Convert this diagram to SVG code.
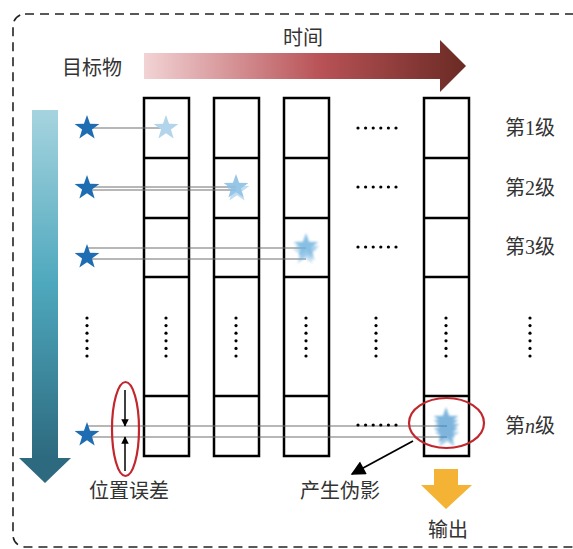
<svg xmlns="http://www.w3.org/2000/svg" width="573" height="549" viewBox="0 0 573 549">
<style>
.t{font-family:"Liberation Serif","Noto Sans CJK SC",serif;font-size:20px;fill:#333;}
.cell{fill:none;stroke:#000;stroke-width:2.5;}
.ln{stroke:#707070;stroke-width:1.2;fill:none;}
.dot{fill:#000;}
.ell{fill:none;stroke:#c1272d;stroke-width:2.2;}
</style>
<defs>
<path id="star" d="M0,-13 L3.06,-4.21 L12.36,-4.02 L4.95,1.61 L7.64,10.52 L0,5.2 L-7.64,10.52 L-4.95,1.61 L-12.36,-4.02 L-3.06,-4.21 Z"/>
<linearGradient id="gRed" x1="0" y1="0" x2="1" y2="0">
<stop offset="0" stop-color="#f2d3d5"/>
<stop offset="0.55" stop-color="#b85256"/>
<stop offset="1" stop-color="#6a2a24"/>
</linearGradient>
<linearGradient id="gBlue" x1="0" y1="0" x2="0" y2="1">
<stop offset="0" stop-color="#a6d4df"/>
<stop offset="0.5" stop-color="#4ea8bd"/>
<stop offset="1" stop-color="#2d6a7f"/>
</linearGradient>
<filter id="b1" x="-50%" y="-50%" width="200%" height="200%"><feGaussianBlur stdDeviation="0.6"/></filter>
<filter id="b2" x="-50%" y="-50%" width="200%" height="200%"><feGaussianBlur stdDeviation="1"/></filter>
<marker id="ahBig" viewBox="0 0 10 10" refX="9" refY="5" markerWidth="9" markerHeight="8" orient="auto" markerUnits="strokeWidth">
<path d="M0,0 L10,5 L0,10 Z" fill="#000"/>
</marker>
<marker id="ahSmall" viewBox="0 0 10 10" refX="9" refY="5" markerWidth="5" markerHeight="5" orient="auto" markerUnits="strokeWidth">
<path d="M0,0 L10,5 L0,10 Z" fill="#000"/>
</marker>
</defs>

<g id="border">
<rect x="13" y="14" width="572" height="533" rx="12" ry="12" fill="none" stroke="#222" stroke-width="1.6" stroke-dasharray="9,6"/>
</g>

<g id="time-arrow">
<polygon points="144,53 440,53 440,40 466,66 440,92 440,79 144,79" fill="url(#gRed)"/>
<text class="t" x="303" y="45" text-anchor="middle">时间</text>
</g>

<g id="level-arrow">
<rect x="32" y="110" width="26" height="348" fill="url(#gBlue)"/>
<polygon points="19,458 71,458 45,483" fill="#2d6a7f"/>
</g>

<g id="label-target">
<text class="t" x="92" y="75" text-anchor="middle">目标物</text>
</g>

<g id="col1">
<rect class="cell" x="144" y="98" width="45" height="358"/>
<path class="cell" d="M144,158H189M144,218H189M144,277H189M144,396H189"/>
</g>
<g id="col2">
<rect class="cell" x="214" y="98" width="45" height="358"/>
<path class="cell" d="M214,158H259M214,218H259M214,277H259M214,396H259"/>
</g>
<g id="col3">
<rect class="cell" x="284" y="98" width="45" height="358"/>
<path class="cell" d="M284,158H329M284,218H329M284,277H329M284,396H329"/>
</g>
<g id="col5">
<rect class="cell" x="424" y="98" width="45" height="358"/>
<path class="cell" d="M424,158H469M424,218H469M424,277H469M424,396H469"/>
</g>

<g id="connectors">
<path class="ln" d="M88,128H166"/>
<path class="ln" d="M88,187H236M88,190H236"/>
<path class="ln" d="M88,248H306M88,259H306"/>
<path class="ln" d="M88,426H447M88,437H447"/>
<line x1="125" y1="390" x2="125" y2="426" stroke="#000" stroke-width="1.5" marker-end="url(#ahSmall)"/>
<line x1="125" y1="471" x2="125" y2="437" stroke="#000" stroke-width="1.5" marker-end="url(#ahSmall)"/>
<line x1="413" y1="441" x2="352" y2="474" stroke="#000" stroke-width="1.8" marker-end="url(#ahBig)"/>
</g>

<g id="targets">
<use href="#star" x="87" y="128" fill="#1e6db3"/>
<use href="#star" x="87" y="188" fill="#1e6db3"/>
<use href="#star" x="87" y="257" fill="#1e6db3"/>
<use href="#star" x="87" y="435" fill="#1e6db3"/>
</g>

<g id="images">
<use href="#star" x="166" y="128" fill="#b3d5ec"/>
<g filter="url(#b1)" fill="#8cc0e4" opacity="0.9">
<use href="#star" x="236" y="187"/>
<use href="#star" x="237" y="190" opacity="0.6"/>
</g>
<g filter="url(#b2)" fill="#6cb0de" opacity="0.8">
<use href="#star" x="306" y="246"/>
<use href="#star" x="307" y="250" opacity="0.7"/>
<use href="#star" x="305" y="253" opacity="0.5"/>
</g>
<g filter="url(#b2)" fill="#3a8fcc" opacity="0.65">
<use href="#star" x="446" y="420"/>
<use href="#star" x="446" y="424"/>
<use href="#star" x="447" y="428"/>
<use href="#star" x="446" y="432"/>
<use href="#star" x="447" y="436" opacity="0.7"/>
</g>
</g>

<g id="dots-h">
<g class="dot">
<circle cx="358" cy="128" r="1.6"/><circle cx="365.6" cy="128" r="1.6"/><circle cx="373.2" cy="128" r="1.6"/><circle cx="380.8" cy="128" r="1.6"/><circle cx="388.4" cy="128" r="1.6"/><circle cx="396" cy="128" r="1.6"/>
<circle cx="358" cy="187" r="1.6"/><circle cx="365.6" cy="187" r="1.6"/><circle cx="373.2" cy="187" r="1.6"/><circle cx="380.8" cy="187" r="1.6"/><circle cx="388.4" cy="187" r="1.6"/><circle cx="396" cy="187" r="1.6"/>
<circle cx="358" cy="247" r="1.6"/><circle cx="365.6" cy="247" r="1.6"/><circle cx="373.2" cy="247" r="1.6"/><circle cx="380.8" cy="247" r="1.6"/><circle cx="388.4" cy="247" r="1.6"/><circle cx="396" cy="247" r="1.6"/>
<circle cx="358" cy="425" r="1.6"/><circle cx="365.6" cy="425" r="1.6"/><circle cx="373.2" cy="425" r="1.6"/><circle cx="380.8" cy="425" r="1.6"/><circle cx="388.4" cy="425" r="1.6"/><circle cx="396" cy="425" r="1.6"/>
</g>
</g>

<g id="dots-v" class="dot">
<g transform="translate(87,0)"><circle cy="318" r="1.6"/><circle cy="325.6" r="1.6"/><circle cy="333.2" r="1.6"/><circle cy="340.8" r="1.6"/><circle cy="348.4" r="1.6"/><circle cy="356" r="1.6"/></g>
<g transform="translate(166,0)"><circle cy="318" r="1.6"/><circle cy="325.6" r="1.6"/><circle cy="333.2" r="1.6"/><circle cy="340.8" r="1.6"/><circle cy="348.4" r="1.6"/><circle cy="356" r="1.6"/></g>
<g transform="translate(236,0)"><circle cy="318" r="1.6"/><circle cy="325.6" r="1.6"/><circle cy="333.2" r="1.6"/><circle cy="340.8" r="1.6"/><circle cy="348.4" r="1.6"/><circle cy="356" r="1.6"/></g>
<g transform="translate(306,0)"><circle cy="318" r="1.6"/><circle cy="325.6" r="1.6"/><circle cy="333.2" r="1.6"/><circle cy="340.8" r="1.6"/><circle cy="348.4" r="1.6"/><circle cy="356" r="1.6"/></g>
<g transform="translate(376,0)"><circle cy="318" r="1.6"/><circle cy="325.6" r="1.6"/><circle cy="333.2" r="1.6"/><circle cy="340.8" r="1.6"/><circle cy="348.4" r="1.6"/><circle cy="356" r="1.6"/></g>
<g transform="translate(446,0)"><circle cy="318" r="1.6"/><circle cy="325.6" r="1.6"/><circle cy="333.2" r="1.6"/><circle cy="340.8" r="1.6"/><circle cy="348.4" r="1.6"/><circle cy="356" r="1.6"/></g>
<g transform="translate(530,0)"><circle cy="318" r="1.6"/><circle cy="325.6" r="1.6"/><circle cy="333.2" r="1.6"/><circle cy="340.8" r="1.6"/><circle cy="348.4" r="1.6"/><circle cy="356" r="1.6"/></g>
</g>

<g id="level-labels">
<text class="t" x="530" y="135" text-anchor="middle">第1级</text>
<text class="t" x="530" y="195" text-anchor="middle">第2级</text>
<text class="t" x="530" y="254" text-anchor="middle">第3级</text>
<text class="t" x="530" y="433" text-anchor="middle">第<tspan font-style="italic">n</tspan>级</text>
</g>

<g id="position-error">
<ellipse class="ell" cx="125.5" cy="429" rx="13.5" ry="47"/>
<text class="t" x="129" y="498" text-anchor="middle">位置误差</text>
</g>

<g id="artifact">
<ellipse class="ell" cx="446.5" cy="423" rx="37.5" ry="25"/>
<text class="t" x="340" y="498" text-anchor="middle">产生伪影</text>
</g>

<g id="output">
<polygon points="434,469 458,469 458,485 472,485 446,509 421,485 434,485" fill="#f5b335"/>
<text class="t" x="448" y="537" text-anchor="middle">输出</text>
</g>
</svg>
